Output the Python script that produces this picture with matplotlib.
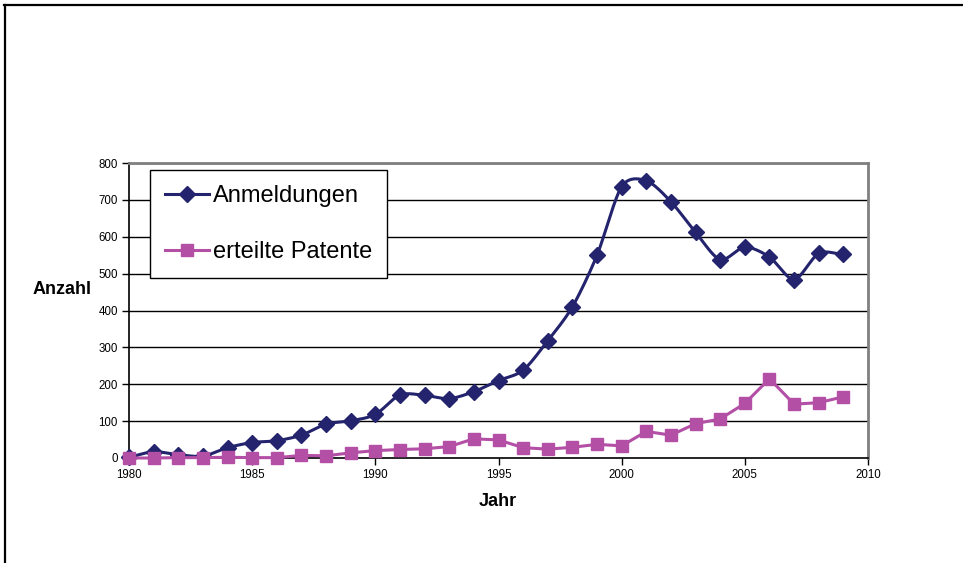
import numpy as np
import matplotlib
matplotlib.use("Agg")
import matplotlib.pyplot as plt
from matplotlib.lines import Line2D

# data
jahre = list(range(1980, 2010))
anmeldungen = [2, 17, 9, 5, 28, 42, 47, 62, 92, 101, 118, 171, 170, 161, 180, 210,
               238, 318, 410, 550, 736, 752, 695, 612, 538, 572, 545, 484, 555, 552]
patente = [0, 0, 1, 1, 2, 1, 1, 7, 6, 14, 20, 23, 25, 31, 52, 49,
           28, 24, 29, 37, 33, 72, 62, 93, 106, 148, 215, 146, 150, 166]

y_ticks = list(range(0, 801, 100))
x_ticks = list(range(1980, 2011, 5))

navy = "#23236E"
pink = "#B44FA6"


def smooth(x, y, n=20, k=0.85):
    # cardinal spline through the points, like Excel's smoothed line
    x = np.asarray(x, float)
    y = np.asarray(y, float)
    px = np.concatenate([[2 * x[0] - x[1]], x, [2 * x[-1] - x[-2]]])
    py = np.concatenate([[2 * y[0] - y[1]], y, [2 * y[-1] - y[-2]]])
    t = np.linspace(0, 1, n, endpoint=False)
    h00 = 2 * t ** 3 - 3 * t ** 2 + 1
    h10 = t ** 3 - 2 * t ** 2 + t
    h01 = -2 * t ** 3 + 3 * t ** 2
    h11 = t ** 3 - t ** 2
    xs, ys = [], []
    for i in range(1, len(px) - 2):
        for p, out in ((px, xs), (py, ys)):
            m1 = k * 0.5 * (p[i + 1] - p[i - 1])
            m2 = k * 0.5 * (p[i + 2] - p[i])
            out.extend(h00 * p[i] + h10 * m1 + h01 * p[i + 1] + h11 * m2)
    xs.append(x[-1])
    ys.append(y[-1])
    return np.array(xs), np.array(ys)


plt.rcParams['font.family'] = ['Liberation Sans', 'DejaVu Sans']

fig = plt.figure(figsize=(9.63, 5.63), dpi=100)
ax = fig.add_axes([129 / 963, 1 - 458 / 563, 739 / 963, 295 / 563])

for v in y_ticks[1:]:
    ax.axhline(v, color="black", lw=1.0, zorder=1)

sx, sy = smooth(jahre, anmeldungen)
ax.plot(sx, sy, color=navy, lw=2.2, zorder=3, clip_on=False)
ax.plot(jahre, anmeldungen, ls="none", marker="D", ms=8, color=navy, zorder=4,
        clip_on=False)
ax.plot(jahre, patente, color=pink, lw=2.2, marker="s", ms=9, zorder=5,
        clip_on=False)

ax.set_xlim(1980, 2010)
ax.set_ylim(0, 800)
ax.set_xticks(x_ticks)
ax.set_yticks(y_ticks)
ax.tick_params(axis="both", direction="out", length=5, width=1, labelsize=8.3,
               pad=3, colors="black")

for s in ("top", "right"):
    ax.spines[s].set_color("#808080")
    ax.spines[s].set_linewidth(2)
for s in ("left", "bottom"):
    ax.spines[s].set_color("black")
    ax.spines[s].set_linewidth(1.2)

handles = [
    Line2D([], [], color=navy, lw=2.2, marker="D", ms=8),
    Line2D([], [], color=pink, lw=2.2, marker="s", ms=9),
]
leg = ax.legend(handles, ["Anmeldungen", "erteilte Patente"],
                loc="upper left", bbox_to_anchor=(21 / 739, 288 / 295),
                borderaxespad=0, fontsize=17, frameon=True, fancybox=False,
                edgecolor="black", framealpha=1, handlelength=1.85,
                handletextpad=0.15, labelspacing=1.42, borderpad=0.65)
leg.get_frame().set_linewidth(1.0)
leg.set_zorder(6)

fig.text(62.5 / 963, 1 - 290 / 563, "Anzahl", fontsize=13, fontweight="bold",
         ha="center", va="center")
fig.text(498 / 963, 1 - 502 / 563, "Jahr", fontsize=13, fontweight="bold",
         ha="center", va="center")

# outer frame (top and left edges visible)
fig.add_artist(Line2D([5 / 963, 5 / 963], [0, 1 - 5 / 563], color="black",
                      lw=1.6, transform=fig.transFigure))
fig.add_artist(Line2D([4 / 963, 1], [1 - 5 / 563, 1 - 5 / 563], color="black",
                      lw=1.6, transform=fig.transFigure))

fig.savefig("out.png", dpi=100)
